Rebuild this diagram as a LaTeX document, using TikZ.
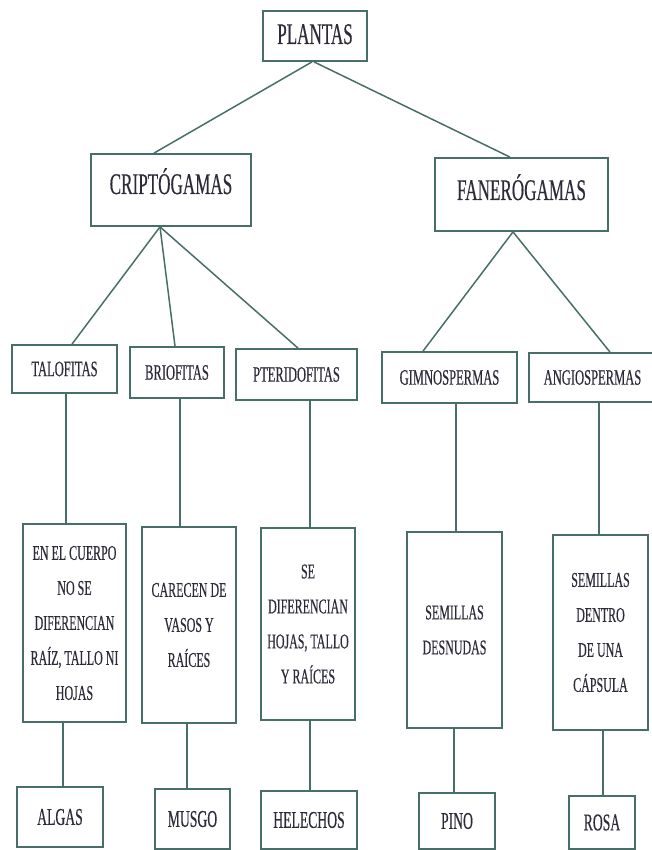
\documentclass[tikz,border=0pt]{standalone}
\usepackage{fontspec}
\newfontfamily\cf[FakeStretch=0.57,FakeBold=0.4]{Liberation Serif}
\definecolor{lc}{RGB}{72,110,106}
\definecolor{tc}{RGB}{45,42,58}
\begin{document}
\begin{tikzpicture}[x=1pt,y=-1pt,
  box/.style={draw=lc,line width=1.8pt,inner sep=0pt,text=tc,align=center},
  big/.style={box,font=\cf\fontsize{30}{33}\selectfont,text height=20pt},
  mid/.style={box,font=\cf\fontsize{22}{26}\selectfont},
  desc/.style={box,font=\cf\fontsize{21}{35}\selectfont},
  leaf/.style={box,font=\cf\fontsize{24}{28}\selectfont},
  conn/.style={draw=lc,line width=1.5pt}]
\useasboundingbox (0,0) rectangle (652,850);
% level 0
\node[big,text depth=4pt,minimum width=104pt,minimum height=50pt] (plantas) at (315,36) {PLANTAS};
% level 1
\node[big,text depth=12pt,minimum width=160pt,minimum height=72pt] (cripto) at (171,190) {CRIPTÓGAMAS};
\node[big,text depth=9pt,minimum width=173pt,minimum height=73pt] (fanero) at (521.5,194.5) {FANERÓGAMAS};
% level 2
\node[mid,minimum width=105pt,minimum height=48pt] (talo) at (64.5,369) {TALOFITAS};
\node[mid,minimum width=94pt,minimum height=51pt] (brio) at (177,372.5) {BRIOFITAS};
\node[mid,minimum width=121pt,minimum height=51pt] (pteri) at (296.5,374.5) {PTERIDOFITAS};
\node[mid,minimum width=135pt,minimum height=51pt] (gimno) at (449.5,377.5) {GIMNOSPERMAS};
\node[mid,minimum width=127pt,minimum height=49pt] (angio) at (592.5,377.5) {ANGIOSPERMAS};
% level 3
\node[desc,minimum width=103pt,minimum height=198pt] (enel) at (74.5,623) {EN EL CUERPO\\NO SE\\DIFERENCIAN\\RAÍZ, TALLO NI\\HOJAS};
\node[desc,minimum width=94pt,minimum height=196pt] (carecen) at (189,625) {CARECEN DE\\VASOS Y\\RAÍCES};
\node[desc,minimum width=94pt,minimum height=192pt] (sedif) at (308,624) {SE\\DIFERENCIAN\\HOJAS, TALLO\\Y RAÍCES};
\node[desc,minimum width=95pt,minimum height=196pt] (semdes) at (454.5,630) {SEMILLAS\\DESNUDAS};
\node[desc,minimum width=95pt,minimum height=195pt] (semden) at (600.5,632.5) {SEMILLAS\\DENTRO\\DE UNA\\CÁPSULA};
% level 4
\node[leaf,minimum width=86pt,minimum height=60pt] (algas) at (60,817) {ALGAS};
\node[leaf,minimum width=75pt,minimum height=60pt] (musgo) at (192.5,819) {MUSGO};
\node[leaf,minimum width=96pt,minimum height=58pt] (helechos) at (309,820) {HELECHOS};
\node[leaf,minimum width=76pt,minimum height=56pt] (pino) at (457,821) {PINO};
\node[leaf,minimum width=66pt,minimum height=53pt] (rosa) at (602,822.5) {ROSA};
% connectors
\draw[conn] ([xshift=-3pt]plantas.south) -- ([xshift=-17pt]cripto.north);
\draw[conn] ([xshift=-1pt]plantas.south) -- ([xshift=-11.5pt]fanero.north);
\draw[conn] ([xshift=-11pt]cripto.south) -- ([xshift=7.5pt]talo.north);
\draw[conn] ([xshift=-11pt]cripto.south) -- ([xshift=-2pt]brio.north);
\draw[conn] ([xshift=-11pt]cripto.south) -- ([xshift=1.5pt]pteri.north);
\draw[conn] ([xshift=-8.5pt]fanero.south) -- ([xshift=-26.5pt]gimno.north);
\draw[conn] ([xshift=-8.5pt]fanero.south) -- ([xshift=17.5pt]angio.north);
\draw[conn] ([xshift=1.5pt]talo.south) -- ([xshift=-8.5pt]enel.north);
\draw[conn] ([xshift=3pt]brio.south) -- ([xshift=-9pt]carecen.north);
\draw[conn] ([xshift=13.5pt]pteri.south) -- ([xshift=2pt]sedif.north);
\draw[conn] ([xshift=6.5pt]gimno.south) -- ([xshift=1.5pt]semdes.north);
\draw[conn] ([xshift=6.5pt]angio.south) -- ([xshift=-1.5pt]semden.north);
\draw[conn] ([xshift=-11.5pt]enel.south) -- ([xshift=3pt]algas.north);
\draw[conn] ([xshift=-2pt]carecen.south) -- ([xshift=-5.5pt]musgo.north);
\draw[conn] ([xshift=2pt]sedif.south) -- ([xshift=1pt]helechos.north);
\draw[conn] ([xshift=-0.5pt]semdes.south) -- ([xshift=-3pt]pino.north);
\draw[conn] ([xshift=2.5pt]semden.south) -- ([xshift=1pt]rosa.north);
\end{tikzpicture}
\end{document}
